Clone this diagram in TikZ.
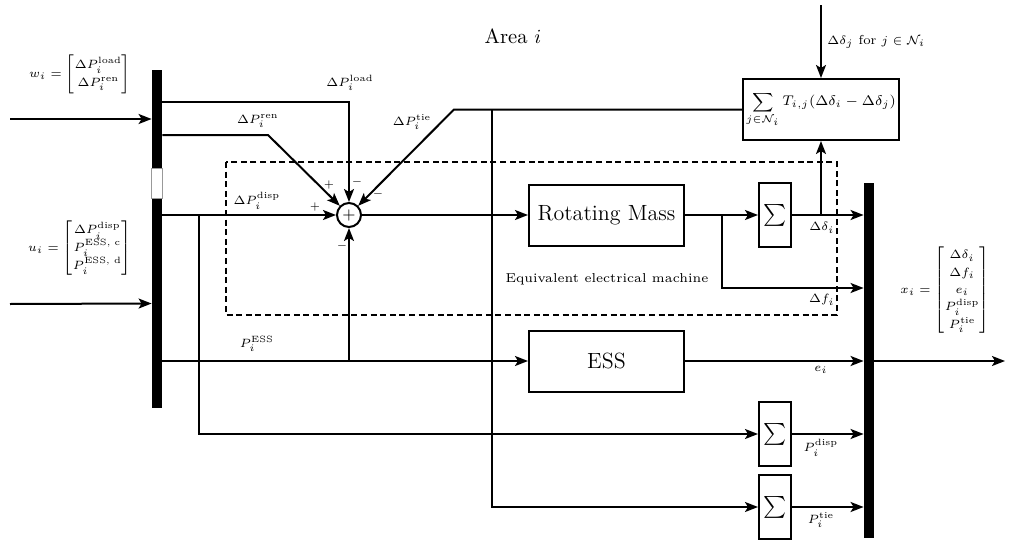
\documentclass[tikz,border=0pt]{standalone}
\usepackage{amsmath}
\usetikzlibrary{arrows.meta,calc}
\tikzset{
 wire/.style={line width=1pt},
 arr/.style={wire,-{Stealth[length=6.5pt,width=5pt,inset=1.5pt]}},
 blk/.style={draw,line width=1pt,inner sep=0pt,font=\fontsize{11}{13}\selectfont},
 sigbox/.style={blk,minimum width=16pt,minimum height=32pt},
 bigbox/.style={blk,minimum width=77.5pt,minimum height=30.5pt},
 bus/.style={fill=black,inner sep=0pt,minimum width=5pt},
 lbl/.style={font=\fontsize{6.5}{8.7}\selectfont,inner sep=0pt},
 mat/.style={lbl},
 sgn/.style={font=\fontsize{5}{6}\selectfont,inner sep=0pt},
}
\begin{document}
\begin{tikzpicture}[x=0.5pt,y=-0.5pt]
\useasboundingbox (0,0) rectangle (1009,541);
% buses
\node[bus,minimum height=49pt] (wbar) at (157,119) {};
\node[bus,minimum height=104.5pt] (ubar) at (157,303.5) {};
\draw[line width=0.3pt,black!40] (wbar.south west) rectangle (ubar.north east);
\node[bus,minimum height=177.5pt] (rbar) at (869,360.5) {};
% blocks
\node[draw,circle,line width=1pt,minimum size=12pt,inner sep=0pt,font=\fontsize{8}{9}\selectfont] (sum) at (349,215) {$+$};
\node[bigbox] (rm) at (606.5,215) {Rotating Mass};
\node[bigbox] (ess) at (606.5,361) {ESS};
\node[blk,minimum width=78pt,minimum height=30.5pt,font=\fontsize{6.6}{8}\selectfont] (tie) at (821,109.5) {$\displaystyle\sum_{j\in\mathcal{N}_i} T_{i,j}(\Delta\delta_i-\Delta\delta_j)$};
\node[sigbox] (s1) at (775,215) {$\sum$};
\node[sigbox] (s2) at (775,434) {$\sum$};
\node[sigbox] (s3) at (775,507) {$\sum$};
% dashed region
\draw[line width=1pt,dash pattern=on 3pt off 1.8pt] (226,162) rectangle (837,315);
% coordinates
\coordinate (win) at (10,119);
\coordinate (uin) at (10,304);
\coordinate (renb) at (268,135);
\coordinate (tiebend) at (454,109.5);
\coordinate (essj) at (sum.south |- ess.west);
\coordinate (fb) at (722,215);
\coordinate (db) at (199,215);
\coordinate (tb) at (492,109.5);
\coordinate (topin) at (821,5);
\coordinate (xout) at (1005,361);
% wires
\draw[arr] (win) -- (wbar.west);
\draw[arr] (uin) -- (ubar.west);
\draw[arr] (wbar.east |- 0,102) -| (sum.north);
\draw[arr] (wbar.east |- renb) -- (renb) -- (sum.north west);
\draw[arr] (ubar.east |- sum.west) -- (sum.west);
\draw[arr] (tie.west) -- (tiebend) -- (sum.north east);
\draw[arr] (ubar.east |- ess.west) -- (ess.west);
\draw[arr] (essj) -- (sum.south);
\draw[arr] (sum.east) -- (rm.west);
\draw[arr] (rm.east) -- (s1.west);
\draw[arr] (fb) |- (rbar.west |- 0,288);
\draw[arr] (s1.east) -- (rbar.west |- s1.east);
\draw[arr] (tie.south |- s1.east) -- (tie.south);
\draw[arr] (topin) -- (tie.north);
\draw[arr] (ess.east) -- (rbar.west |- ess.east);
\draw[arr] (db) |- (s2.west);
\draw[arr] (s2.east) -- (rbar.west |- s2.east);
\draw[arr] (tb) |- (s3.west);
\draw[arr] (s3.east) -- (rbar.west |- s3.east);
\draw[arr] (rbar.east |- xout) -- (xout);
% labels
\node[font=\fontsize{10.3}{12}\selectfont] (area) at (513,36) {Area $i$};
\node[font=\fontsize{6.45}{8}\selectfont] (eqm) at (607,279) {Equivalent electrical machine};
\node[lbl] (lload) at (350,83) {$\Delta P_i^{\text{load}}$};
\node[lbl] (lren) at (258,121) {$\Delta P_i^{\text{ren}}$};
\node[lbl] (ltie) at (412,122) {$\Delta P_i^{\text{tie}}$};
\node[lbl] (ldisp) at (257,201) {$\Delta P_i^{\text{disp}}$};
\node[lbl] (less) at (257,344) {$P_i^{\text{ESS}}$};
\node[lbl] (ldd) at (822,228) {$\Delta\delta_i$};
\node[lbl] (ldf) at (822,300) {$\Delta f_i$};
\node[lbl] (le) at (821,370) {$e_i$};
\node[lbl] (lpd) at (821,448) {$P_i^{\text{disp}}$};
\node[lbl] (lpt) at (821,520) {$P_i^{\text{tie}}$};
\node[lbl,anchor=west,font=\fontsize{6.5}{8}\selectfont] (ldj) at (827,42) {$\Delta\delta_j$ for $j\in\mathcal{N}_i$};
% signs
\node[sgn] (p1) at (329,185) {$+$};
\node[sgn] (m1) at (357,182) {$-$};
\node[sgn] (m2) at (378,194) {$-$};
\node[sgn] (p2) at (315,207) {$+$};
\node[sgn] (m3) at (342,246) {$-$};
% vectors
\node[mat] (wv) at (80,74) {$w_i=\begin{bmatrix}\Delta P_i^{\text{load}}\\ \Delta P_i^{\text{ren}}\end{bmatrix}$};
\node[mat] (uv) at (80,248) {$u_i=\begin{bmatrix}\Delta P_i^{\text{disp}}\\ P_i^{\text{ESS, c}}\\ P_i^{\text{ESS, d}}\end{bmatrix}$};
\node[mat] (xv) at (945,290) {$x_i=\begin{bmatrix}\Delta\delta_i\\ \Delta f_i\\ e_i\\ P_i^{\text{disp}}\\ P_i^{\text{tie}}\end{bmatrix}$};
\end{tikzpicture}
\end{document}
